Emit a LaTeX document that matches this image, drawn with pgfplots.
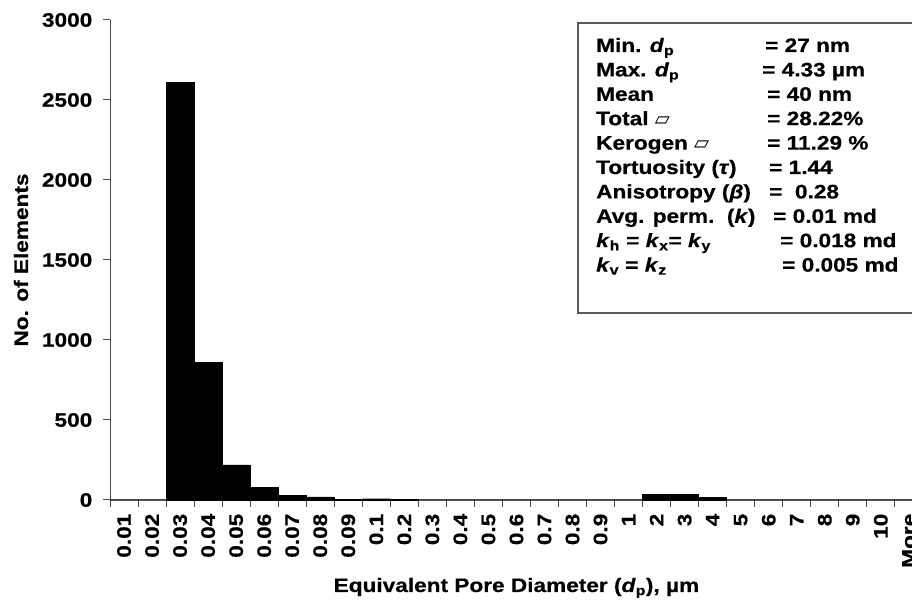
\documentclass[border=0pt]{standalone}
\usepackage{fontspec}
\setmainfont{Liberation Sans}[FakeStretch=1.16, FakeBold=0.5]
\newfontfamily\dejavu{DejaVu Sans}
\usepackage{pgfplots}
\pgfplotsset{compat=1.18}
\newcommand{\px}[2]{({#1*1pt},{(601-#2)*1pt})}
\newcommand{\dpp}{\textit{d}\textsubscript{p}}
\newcommand{\kk}[1]{\textit{k}\textsubscript{#1}}
\newcommand{\ff}{\fontsize{19.5}{21}\selectfont\bfseries}
\begin{document}
\ff
\begin{tikzpicture}
\begin{axis}[
  at={(110pt,101pt)}, anchor=south west,
  scale only axis, width=812.87pt, height=480pt,
  xmin=0, xmax=29, ymin=0, ymax=3000,
  enlargelimits=false,
  axis x line*=bottom, axis y line*=left,
  axis line style={-, draw=black!70, line width=1pt},
  tick align=outside,
  xtick=data,
  xticklabels={0.01,0.02,0.03,0.04,0.05,0.06,0.07,0.08,0.09,0.1,0.2,0.3,0.4,0.5,0.6,0.7,0.8,0.9,1,2,3,4,5,6,7,8,9,10,More},
  major x tick style={draw=none},
  minor xtick={0,1,...,29},
  minor x tick style={draw=black!70, line width=1pt},
  minor tick length=7pt,
  ytick={0,500,...,3000},
  major y tick style={draw=black!70, line width=1pt},
  major tick length=7pt,
  /pgf/number format/assume math mode=true,
  /pgf/number format/1000 sep={},
  tick label style={font=\ff},
  xticklabel style={rotate=90, anchor=east},
  yticklabel style={xshift=-4pt},
  label style={font=\ff},
  xlabel={Equivalent Pore Diameter (\textit{d}\textsubscript{p}), µm},
  xlabel style={at={(axis description cs:0.5,0)}, anchor=base, yshift=-92pt},
  ylabel={No. of Elements},
  ylabel style={at={(axis description cs:-0.1095,0.5)}, anchor=center},
  clip=false,
]
\addplot[ybar, bar width=28.03pt, bar shift=0pt, fill=black, draw=black, line width=0.4pt]
  coordinates {
  (0.5,0) (1.5,0) (2.5,2610) (3.5,860) (4.5,219) (5.5,81) (6.5,31) (7.5,20)
  (8.5,5) (9.5,8) (10.5,6) (11.5,0) (12.5,0) (13.5,0) (14.5,0) (15.5,0)
  (16.5,0) (17.5,0) (18.5,0) (19.5,35) (20.5,37) (21.5,15) (22.5,0) (23.5,0)
  (24.5,0) (25.5,0) (26.5,0) (27.5,0) (28.5,0)
  };
\end{axis}
\draw[draw=black!65, line width=1.5pt, fill=white] \px{578}{23} rectangle \px{940}{313};
\begin{scope}[every node/.style={anchor=base west, inner sep=0pt, font=\ff}]
\node at \px{596}{52} {Min. \dpp};
\node at \px{596}{76.4} {Max. \dpp};
\node at \px{596}{100.8} {Mean};
\node at \px{596}{125.2} {Total {\dejavu ▱}};
\node at \px{596}{149.6} {Kerogen {\dejavu ▱}};
\node at \px{596}{174} {Tortuosity (\textit{τ})};
\node at \px{596}{198.4} {Anisotropy (\textit{β})};
\node at \px{596}{222.8} {Avg. perm.\ \ (\textit{k})};
\node at \px{596}{247.2} {\kk{h} = \kk{x}= \kk{y}};
\node at \px{596}{271.6} {\kk{v} = \kk{z}};
\node at \px{765}{52} {= 27 nm};
\node at \px{762}{76.4} {= 4.33 µm};
\node at \px{767}{100.8} {= 40 nm};
\node at \px{767}{125.2} {= 28.22\%};
\node at \px{767}{149.6} {= 11.29 \%};
\node at \px{769}{174} {= 1.44};
\node at \px{769}{198.4} {=\ \ 0.28};
\node at \px{773}{222.8} {= 0.01 md};
\node at \px{780}{247.2} {= 0.018 md};
\node at \px{782}{271.6} {= 0.005 md};
\end{scope}
\pgfresetboundingbox
\path (0,0) rectangle (912pt,601pt);
\end{tikzpicture}
\end{document}
